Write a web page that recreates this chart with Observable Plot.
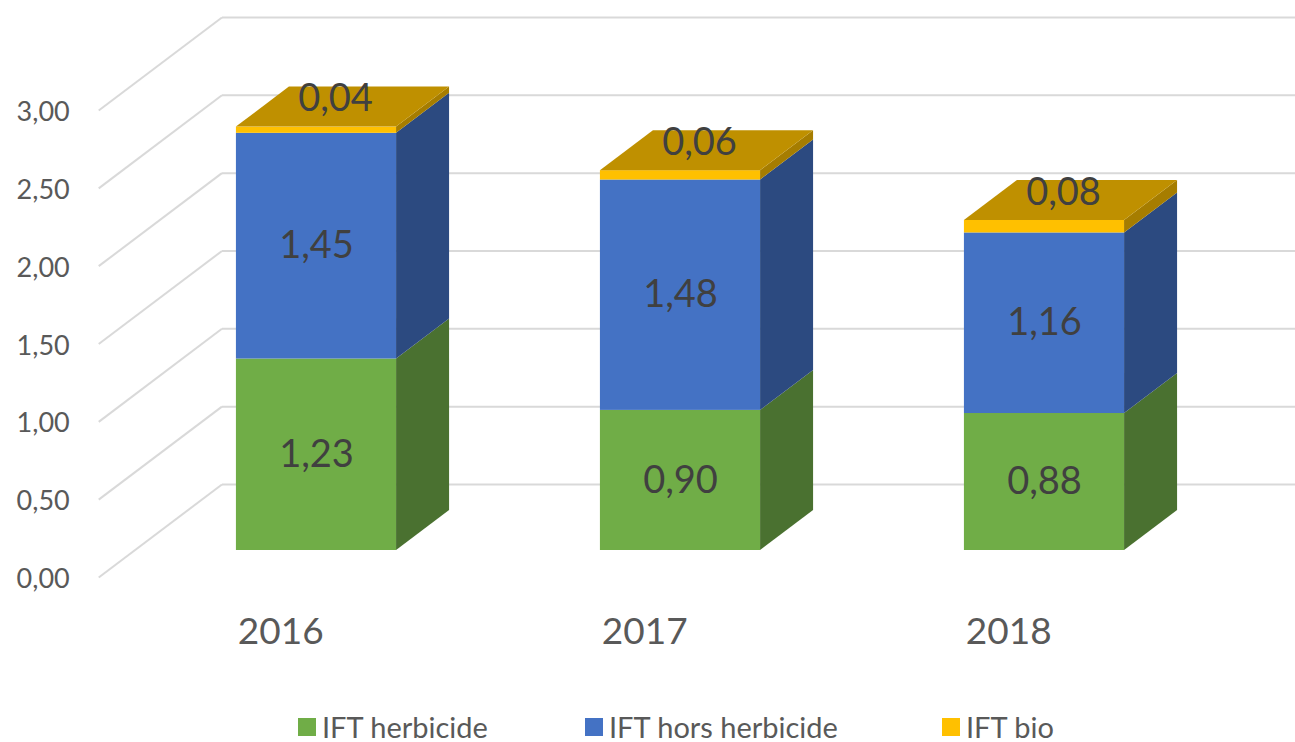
<!DOCTYPE html>
<html><head><meta charset="utf-8">
<script src="https://cdn.jsdelivr.net/npm/d3@7"></script>
<script src="https://cdn.jsdelivr.net/npm/@observablehq/plot@0.6"></script>
<style>
body{margin:0;background:#fff;font-family:Lato,"Open Sans",sans-serif;}
#legend{position:relative;height:42px;font-size:29px;color:#595959;}
.item{position:absolute;top:12px;display:flex;align-items:center;gap:6px;line-height:30px}
.sw{width:18px;height:18px;display:inline-block}
</style></head><body>
<div id="chart"></div>
<div id="legend"></div>
<script>
// ---- data ----
const years = ["2016", "2017", "2018"];
const seriesNames = ["IFT herbicide", "IFT hors herbicide", "IFT bio"];
const herbicide = [1.23, 0.90, 0.88];
const horsHerbicide = [1.45, 1.48, 1.16];
const bio = [0.04, 0.06, 0.08];
const yTicks = [0, 0.5, 1, 1.5, 2, 2.5, 3];
const frontColors = ["#70ad47", "#4472c4", "#ffc000"];
const sideColors = ["#4a7130", "#2c4a80", "#a67d00"];
const topColor = "#bf9000";
const legendLeft = [298, 585, 942];

// ---- 3D oblique projection constants (in scale units) ----
const DX = 0.1456;   // depth offset along x per unit depth
const DV = 0.257;    // depth offset along y per unit depth
const HALF = 0.22;   // half bar width
const WALL_X = -0.5; // side wall position
const D_FRONT = -0.675, D_BACK = 1.65;

const fmt = v => d3.format(".2f")(v).replace(".", ",");
const seriesValues = [herbicide, horsHerbicide, bio];

// build segments
const segs = [];
years.forEach((y, i) => {
  let acc = 0;
  seriesValues.forEach((vals, s) => {
    const v0 = acc, v1 = acc + vals[i];
    segs.push({year: y, i, s, v0, v1, value: vals[i]});
    acc = v1;
  });
});
const totals = years.map((y, i) => segs.filter(d => d.i === i).reduce((m, d) => Math.max(m, d.v1), 0));

// side faces (parallelograms)
const sidePts = [];
segs.forEach(d => {
  const xr = d.i + HALF;
  sidePts.push({key: d.year + d.s, s: d.s, x: xr, y1: d.v0, y2: d.v1});
  sidePts.push({key: d.year + d.s, s: d.s, x: xr + DX, y1: d.v0 + DV, y2: d.v1 + DV});
});
// top faces
const topPts = [];
years.forEach((y, i) => {
  const v = totals[i], x0 = i - HALF, x1 = i + HALF;
  topPts.push({key: y, x: x0, y1: v, y2: v});
  topPts.push({key: y, x: x0 + DX, y1: v, y2: v + DV});
  topPts.push({key: y, x: x1, y1: v, y2: v + DV});
  topPts.push({key: y, x: x1 + DX, y1: v + DV, y2: v + DV});
});

const marks = [
  // back wall gridlines
  Plot.link(yTicks, {x1: WALL_X + D_BACK * DX, x2: 2.9, y1: t => t + D_BACK * DV, y2: t => t + D_BACK * DV, stroke: "#d9d9d9", strokeWidth: 2}),
  // side wall gridlines
  Plot.link(yTicks, {x1: WALL_X + D_FRONT * DX, y1: t => t + D_FRONT * DV, x2: WALL_X + D_BACK * DX, y2: t => t + D_BACK * DV, stroke: "#d9d9d9", strokeWidth: 2}),
  // y tick labels
  Plot.text(yTicks, {x: WALL_X + D_FRONT * DX, y: t => t + D_FRONT * DV, text: fmt, textAnchor: "end", dx: -29, dy: 2, fontSize: 27, fill: "#595959"}),
  // year labels
  Plot.text(years, {x: (d, i) => i + D_FRONT * DX, y: () => D_FRONT * DV, text: d => d, dy: 55, fontSize: 37, fill: "#595959"})
];
seriesValues.forEach((vals, s) => {
  marks.push(Plot.rect(segs.filter(d => d.s === s), {x1: d => d.i - HALF, x2: d => d.i + HALF, y1: "v0", y2: "v1", fill: frontColors[s]}));
  marks.push(Plot.areaY(sidePts.filter(d => d.s === s), {x: "x", y1: "y1", y2: "y2", z: "key", fill: sideColors[s]}));
});
marks.push(Plot.areaY(topPts, {x: "x", y1: "y1", y2: "y2", z: "key", fill: topColor}));
// value labels
marks.push(Plot.text(segs.filter(d => d.s < 2), {x: "i", y: d => (d.v0 + d.v1) / 2, text: d => fmt(d.value), fontSize: 38, fill: "#404040"}));
marks.push(Plot.text(segs.filter(d => d.s === 2), {x: "i", y: "v1", text: d => fmt(d.value), dx: 19, dy: -28, fontSize: 38, fill: "#404040"}));

const chart = Plot.plot({
  width: 1295,
  height: 700,
  marginLeft: 134,
  marginRight: 69,
  marginTop: 83,
  marginBottom: 150,
  style: {fontFamily: "Lato, 'Open Sans', sans-serif", background: "#fff"},
  x: {type: "linear", domain: [-0.5, 2.5], axis: null},
  y: {type: "linear", domain: [0, 3], axis: null},
  marks
});
document.getElementById("chart").appendChild(chart);

// legend
const legend = document.getElementById("legend");
seriesNames.forEach((n, s) => {
  const it = document.createElement("div");
  it.className = "item";
  it.style.left = legendLeft[s] + "px";
  it.innerHTML = `<span class="sw" style="background:${frontColors[s]}"></span><span>${n}</span>`;
  legend.appendChild(it);
});
</script>
</body></html>
